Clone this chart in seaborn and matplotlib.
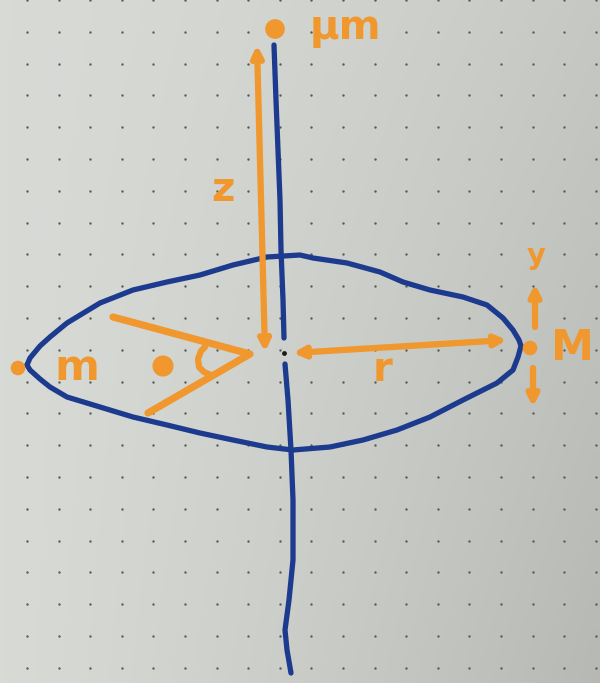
import numpy as np
import pandas as pd
import matplotlib
matplotlib.use("Agg")
import matplotlib.pyplot as plt
import seaborn as sns

# ---- data (pixel space, y downward) ----
axis_upper_x = [274, 276, 278, 280, 281, 283, 284]
axis_upper_y = [45, 100, 150, 200, 250, 300, 338]
axis_lower_x = [285, 288, 291, 293, 293, 289, 285, 287, 291]
axis_lower_y = [364, 400, 450, 500, 560, 600, 630, 650, 673]

disk_upper_x = [27, 30, 40, 50, 67, 100, 133, 167, 200, 233, 267, 300, 313, 347, 380,
                403, 430, 463, 487, 503, 513, 519, 521]
disk_upper_y = [365, 358, 346, 337, 323, 303, 290, 282, 275, 265, 257, 255, 258, 263, 272,
                282, 290, 297, 305, 318, 330, 340, 346]
disk_lower_x = [27, 30, 40, 50, 67, 100, 133, 167, 200, 233, 267, 293, 330, 363, 397,
                430, 463, 497, 513, 518, 521]
disk_lower_y = [365, 370, 379, 387, 397, 407, 417, 425, 433, 440, 447, 450, 447, 440, 430,
                417, 400, 383, 370, 357, 346]

wedge_x = [113, 250, 148]
wedge_y = [317, 354, 413]
hook_x = [205, 201, 198, 199, 204, 211]
hook_y = [347, 351, 359, 367, 372, 375]

dots_x = [275, 18, 163, 530]
dots_y = [29, 368, 366, 348]
dots_size = [200, 110, 230, 110]

center_x = [284]
center_y = [353]

z_arrow = [(257, 45), (265, 352)]
r_arrow = [(293, 353), (507, 340)]
y_up = [(535, 327), (535, 284)]
y_down = [(533, 368), (533, 407)]

labels = ["μm", "z", "m", "r", "M", "y"]
label_x = [345, 223, 77, 383, 572, 536]
label_y = [28, 190, 368, 370, 348, 256]
label_size = [29, 29, 31, 29, 31, 21]

BLUE = "#1d3b8e"
ORANGE = "#f0972e"

sns.set_theme(style="white")
plt.rcParams['font.family'] = ['DejaVu Sans']

fig = plt.figure(figsize=(6.0, 6.83), dpi=100)
ax = fig.add_axes([0, 0, 1, 1])

# paper background gradient
gx = np.linspace(0, 1, 60)
gy = np.linspace(0, 1, 60)
GX, GY = np.meshgrid(gx, gy)
shade = 0.85 - 0.07 * GX ** 1.5 - 0.06 * GY * GX
rgb = np.dstack([shade - 0.005, shade + 0.005, shade - 0.012])
ax.imshow(np.clip(rgb, 0, 1), extent=[0, 600, 683, 0], aspect="auto", zorder=0, interpolation="bilinear")

# dot grid of the notebook paper
gxs = np.arange(27, 600, 31.6)
gys = np.arange(0, 683, 31.8)
GXX, GYY = np.meshgrid(gxs, gys)
sns.scatterplot(x=GXX.ravel(), y=GYY.ravel(), s=3, color="#5a5c58", linewidth=0, ax=ax, zorder=1)

# blue axis and disk
for xs, ys in [(axis_upper_x, axis_upper_y), (axis_lower_x, axis_lower_y),
               (disk_upper_x, disk_upper_y), (disk_lower_x, disk_lower_y)]:
    sns.lineplot(x=xs, y=ys, sort=False, color=BLUE, linewidth=3.8, ax=ax, zorder=3,
                 estimator=None, solid_capstyle="round", solid_joinstyle="round")

# center point
sns.scatterplot(x=center_x, y=center_y, s=12, color="#1a1a1a", linewidth=0, ax=ax, zorder=4)

# orange wedge and hook
sns.lineplot(x=wedge_x, y=wedge_y, sort=False, color=ORANGE, linewidth=5.2, ax=ax, zorder=3,
             estimator=None, solid_capstyle="round", solid_joinstyle="round")
sns.lineplot(x=hook_x, y=hook_y, sort=False, color=ORANGE, linewidth=4.5, ax=ax, zorder=3,
             estimator=None, solid_capstyle="round", solid_joinstyle="round")

# orange dots
sns.scatterplot(x=dots_x, y=dots_y, size=dots_size, sizes=(min(dots_size), max(dots_size)),
                color=ORANGE, linewidth=0, ax=ax, zorder=5, legend=False)

# arrows
arrow_kw = dict(color=ORANGE, lw=4.5, shrinkA=0, shrinkB=0, mutation_scale=16)
for (a, b) in [z_arrow, r_arrow]:
    ax.annotate("", xy=b, xytext=a, arrowprops=dict(arrowstyle="<->", **arrow_kw), zorder=4)
for (a, b) in [y_up, y_down]:
    ax.annotate("", xy=b, xytext=a, arrowprops=dict(arrowstyle="->", **arrow_kw), zorder=4)

# labels
for t, x, y, s in zip(labels, label_x, label_y, label_size):
    ax.text(x, y, t, color=ORANGE, fontsize=s, fontweight="bold", ha="center", va="center", zorder=6)

ax.set_xlim(0, 600)
ax.set_ylim(683, 0)
ax.axis("off")
fig.savefig("out.png", dpi=100)
